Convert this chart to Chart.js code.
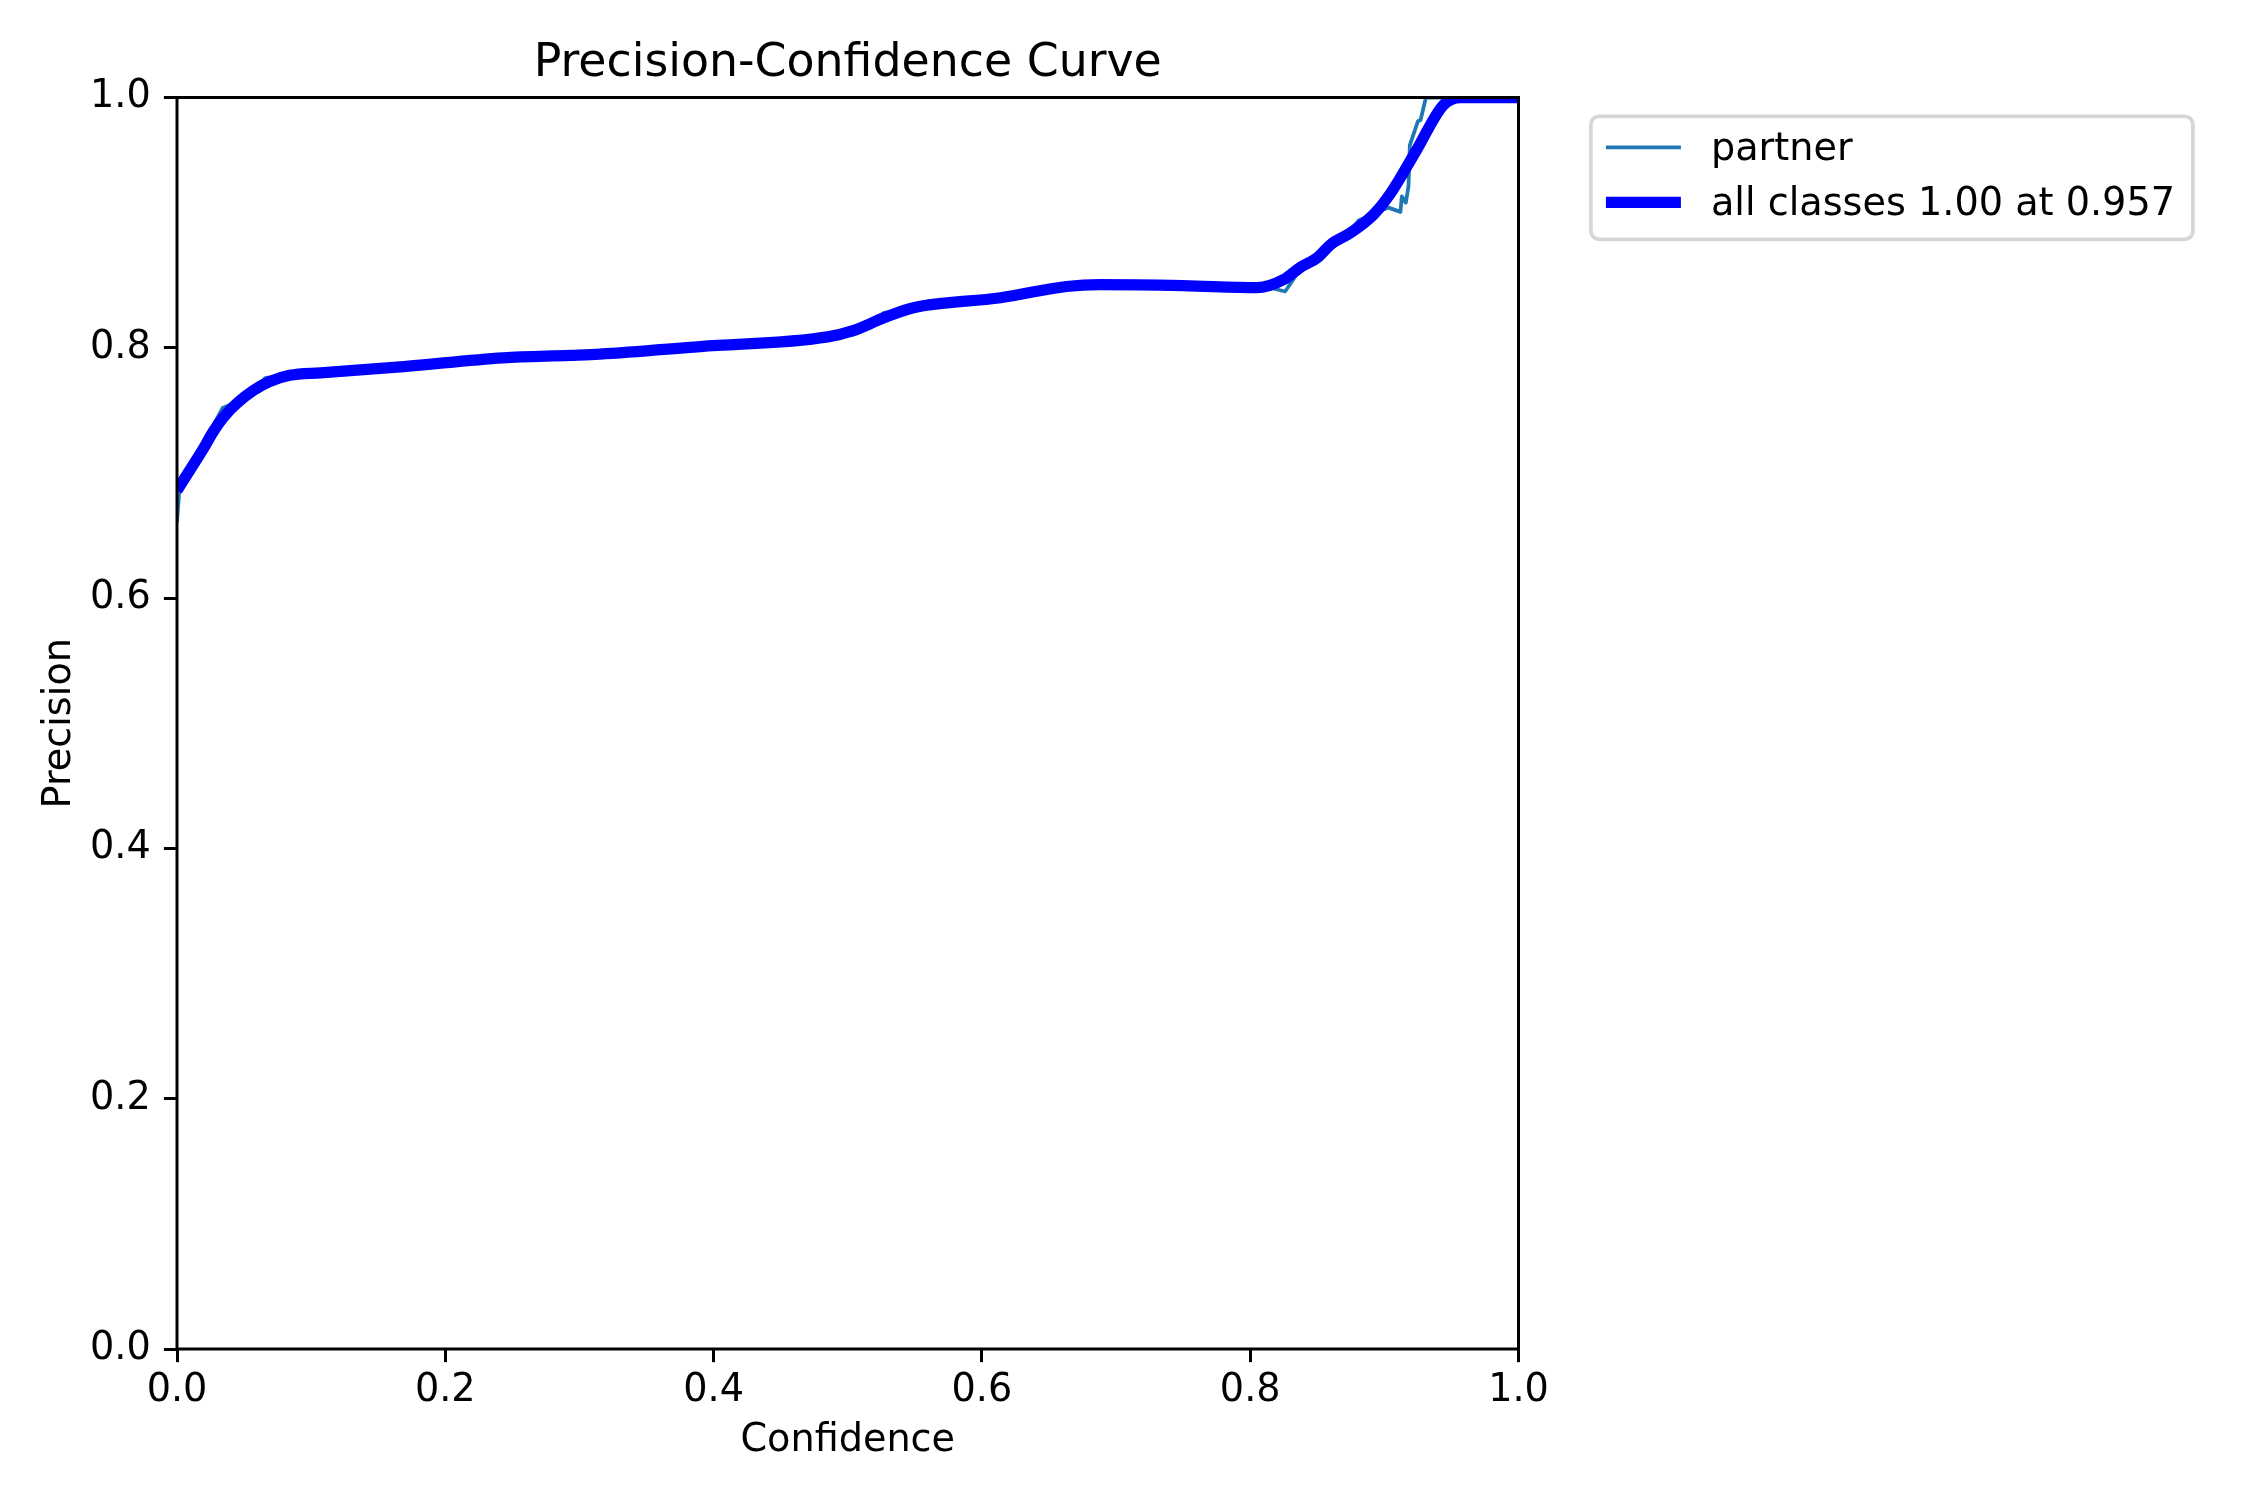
<!DOCTYPE html>
<html>
<head>
<meta charset="utf-8">
<script src="https://cdn.jsdelivr.net/npm/chart.js@4"></script>
<style>
  html, body { margin: 0; padding: 0; background: #ffffff; }
  #wrap { width: 2250px; height: 1500px; }
</style>
</head>
<body>
<div id="wrap"><canvas id="c" width="2250" height="1500"></canvas></div>
<script>
// ---- data ----
const chartTitle = "Precision-Confidence Curve";
const xAxisLabel = "Confidence";
const yAxisLabel = "Precision";
const xTicks = [0.0, 0.2, 0.4, 0.6, 0.8, 1.0];
const yTicks = [0.0, 0.2, 0.4, 0.6, 0.8, 1.0];

const partnerLabel = "partner";
const partnerConf = [0.000, 0.002, 0.010, 0.018, 0.026, 0.034, 0.045, 0.057, 0.066, 0.084, 0.107, 0.169, 0.243, 0.293, 0.315, 0.390, 0.485, 0.504, 0.527, 0.549, 0.614, 0.663, 0.688, 0.750, 0.805, 0.815, 0.826, 0.840, 0.850, 0.860, 0.875, 0.881, 0.892, 0.896, 0.903, 0.912, 0.913, 0.916, 0.918, 0.919, 0.925, 0.927, 0.931, 1.000];
const partnerPrec = [0.661, 0.690, 0.706, 0.716, 0.736, 0.752, 0.757, 0.767, 0.776, 0.778, 0.780, 0.785, 0.792, 0.794, 0.795, 0.801, 0.8087, 0.8105, 0.828, 0.832, 0.840, 0.849, 0.8505, 0.8497, 0.848, 0.848, 0.845, 0.867, 0.872, 0.8825, 0.894, 0.902, 0.9065, 0.909, 0.912, 0.9086, 0.921, 0.916, 0.929, 0.962, 0.981, 0.982, 1.000, 1.000];

const allLabel = "all classes 1.00 at 0.957";
const allConf = [0.000, 0.010, 0.020, 0.027, 0.035, 0.045, 0.057, 0.069, 0.084, 0.107, 0.169, 0.243, 0.293, 0.315, 0.390, 0.485, 0.504, 0.527, 0.549, 0.614, 0.663, 0.688, 0.750, 0.805, 0.825, 0.837, 0.850, 0.860, 0.875, 0.892, 0.905, 0.924, 0.944, 0.957, 1.000];
const allPrec = [0.686, 0.703, 0.720, 0.733, 0.745, 0.756, 0.766, 0.773, 0.778, 0.780, 0.785, 0.792, 0.794, 0.795, 0.801, 0.8087, 0.8137, 0.824, 0.832, 0.840, 0.849, 0.8505, 0.8497, 0.848, 0.8545, 0.864, 0.872, 0.8825, 0.892, 0.9065, 0.924, 0.958, 0.994, 1.000, 1.000];

// ---- styling ----
const FONT = "'DejaVu Sans', 'Liberation Sans', sans-serif";
const PT = 3.75;               // line widths: pixels per point in the reference
const FS = 38.2;               // body text size (px)
const TFS = 45.8;              // title text size (px)
const AREA = { left: 177, top: 97.5, right: 1518.5, bottom: 1349 };

const pairs = (xs, ys) => xs.map((x, i) => ({ x: x, y: ys[i] }));

const framePlugin = {
  id: 'frame',
  afterDatasetsDraw(chart) {
    const a = chart.chartArea, ctx = chart.ctx;
    ctx.save();
    ctx.strokeStyle = '#000000';
    ctx.lineWidth = 0.8 * PT;
    ctx.strokeRect(a.left, a.top, a.right - a.left, a.bottom - a.top);
    ctx.restore();
  }
};

const legendPlugin = {
  id: 'mplLegend',
  afterDraw(chart) {
    const ctx = chart.ctx;
    const a = chart.chartArea;
    const x0 = a.right + 0.04 * (a.right - a.left) + 0.5 * 37.5;
    const y0 = a.top + 0.5 * 37.5;
    const w = 602, h = 123, r = 8;
    ctx.save();
    ctx.beginPath();
    ctx.moveTo(x0 + r, y0);
    ctx.lineTo(x0 + w - r, y0);
    ctx.arcTo(x0 + w, y0, x0 + w, y0 + r, r);
    ctx.lineTo(x0 + w, y0 + h - r);
    ctx.arcTo(x0 + w, y0 + h, x0 + w - r, y0 + h, r);
    ctx.lineTo(x0 + r, y0 + h);
    ctx.arcTo(x0, y0 + h, x0, y0 + h - r, r);
    ctx.lineTo(x0, y0 + r);
    ctx.arcTo(x0, y0, x0 + r, y0, r);
    ctx.closePath();
    ctx.fillStyle = 'rgba(255,255,255,0.8)';
    ctx.fill();
    ctx.strokeStyle = '#d6d6d6';
    ctx.lineWidth = PT;
    ctx.stroke();

    const ds = chart.data.datasets;
    const rows = [y0 + 31, y0 + 86];
    ds.forEach((d, i) => {
      const cy = rows[i];
      ctx.beginPath();
      ctx.moveTo(x0 + 15, cy);
      ctx.lineTo(x0 + 90, cy);
      ctx.strokeStyle = d.borderColor;
      ctx.lineWidth = d.borderWidth;
      ctx.lineCap = 'butt';
      ctx.stroke();
      ctx.fillStyle = '#000000';
      ctx.font = FS + 'px ' + FONT;
      ctx.textBaseline = 'alphabetic';
      ctx.textAlign = 'left';
      ctx.fillText(d.label, x0 + 120, cy + 13);
    });
    ctx.restore();
  }
};

const ctx = document.getElementById('c').getContext('2d');
new Chart(ctx, {
  type: 'line',
  data: {
    datasets: [
      {
        label: partnerLabel,
        data: pairs(partnerConf, partnerPrec),
        borderColor: '#1f77b4',
        borderWidth: 1 * PT,
        pointRadius: 0,
        tension: 0,
        fill: false,
        clip: 0,
        order: 2,
        borderJoinStyle: 'round'
      },
      {
        label: allLabel,
        data: pairs(allConf, allPrec),
        borderColor: '#0000ff',
        borderWidth: 3 * PT,
        pointRadius: 0,
        cubicInterpolationMode: 'monotone',
        fill: false,
        clip: 0,
        order: 1,
        borderJoinStyle: 'round'
      }
    ]
  },
  options: {
    responsive: false,
    animation: false,
    devicePixelRatio: 1,
    layout: { padding: { left: 0, right: 2250 - AREA.right, top: 0, bottom: 0 } },
    plugins: {
      legend: { display: false },
      tooltip: { enabled: false },
      title: {
        display: true,
        text: chartTitle,
        fullSize: false,
        color: '#000000',
        font: { family: FONT, size: TFS, weight: 'normal', lineHeight: 1.2 },
        padding: { top: 37, bottom: AREA.top - 37 - TFS * 1.2 }
      }
    },
    scales: {
      x: {
        type: 'linear',
        min: 0, max: 1,
        afterBuildTicks(scale) { scale.ticks = xTicks.map(v => ({ value: v })); },
        afterFit(scale) { scale.height = 1500 - AREA.bottom; },
        ticks: {
          color: '#000000',
          font: { family: FONT, size: FS },
          padding: 6,
          maxRotation: 0,
          autoSkip: false,
          callback: v => Number(v).toFixed(1)
        },
        grid: { display: true, drawOnChartArea: false, drawTicks: true, tickLength: 3.5 * PT, tickColor: '#000000', tickWidth: 0.8 * PT },
        border: { display: false },
        title: {
          display: true, text: xAxisLabel, color: '#000000',
          font: { family: FONT, size: FS, lineHeight: 1.2 },
          padding: { top: 0, bottom: 36 }
        }
      },
      y: {
        type: 'linear',
        min: 0, max: 1,
        afterBuildTicks(scale) { scale.ticks = yTicks.map(v => ({ value: v })); },
        afterFit(scale) { scale.width = AREA.left; },
        ticks: {
          color: '#000000',
          font: { family: FONT, size: FS },
          padding: 3.5 * PT,
          autoSkip: false,
          callback: v => Number(v).toFixed(1)
        },
        grid: { display: true, drawOnChartArea: false, drawTicks: true, tickLength: 3.5 * PT, tickColor: '#000000', tickWidth: 0.8 * PT },
        border: { display: false },
        title: {
          display: true, text: yAxisLabel, color: '#000000',
          font: { family: FONT, size: FS, lineHeight: 1.2 },
          padding: { top: 37, bottom: 0 }
        }
      }
    }
  },
  plugins: [framePlugin, legendPlugin]
});
</script>
</body>
</html>
